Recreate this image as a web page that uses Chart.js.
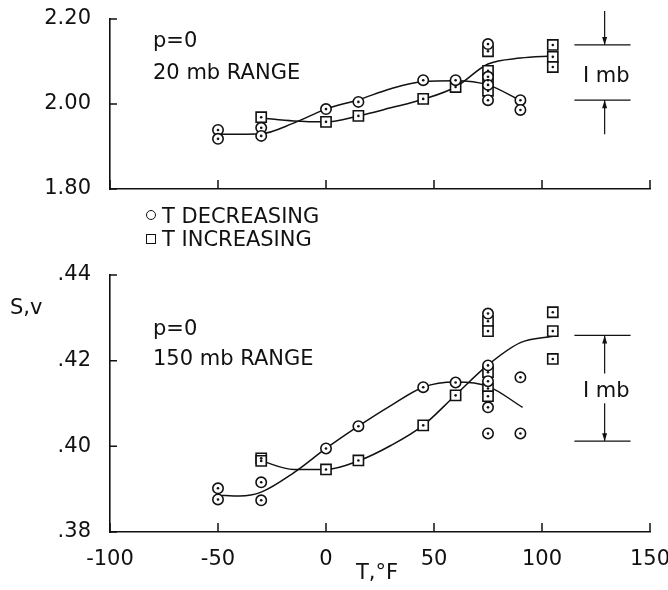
<!DOCTYPE html>
<html>
<head>
<meta charset="utf-8">
<script src="https://cdn.jsdelivr.net/npm/chart.js@4.4.0/dist/chart.umd.min.js"></script>
<style>
  body { margin: 0; background: #fff; width: 668px; height: 590px; position: relative; overflow: hidden;
         font-family: "DejaVu Sans", sans-serif; color: #111; }
  .box { position: absolute; left: 0; width: 668px; }
  #topBox { top: 0; height: 200px; }
  #botBox { top: 250px; height: 340px; }
  .txt { position: absolute; font-size: 21px; line-height: 1; white-space: nowrap; }
  .mk { position: absolute; width: 8px; height: 8px; border: 1.6px solid #111; box-sizing: content-box; }
</style>
</head>
<body>
<div class="box" id="topBox"><canvas id="topChart"></canvas></div>
<div class="box" id="botBox"><canvas id="botChart"></canvas></div>

<div class="txt" style="left:153px;top:30px">p=0</div>
<div class="txt" style="left:153px;top:62px">20 mb RANGE</div>
<div class="txt" style="left:583px;top:65px">I mb</div>

<div class="mk" style="left:146px;top:210px;border-radius:50%"></div>
<div class="txt" style="left:162px;top:206px">T DECREASING</div>
<div class="mk" style="left:146px;top:234px"></div>
<div class="txt" style="left:162px;top:229px">T INCREASING</div>

<div class="txt" style="left:10px;top:297px">S,v</div>
<div class="txt" style="left:153px;top:318px">p=0</div>
<div class="txt" style="left:153px;top:348px">150 mb RANGE</div>
<div class="txt" style="left:583px;top:380px">I mb</div>
<div class="txt" style="left:356px;top:562px">T,°F</div>

<script>
// Axis ticks
const xTicks = [-100, -50, 0, 50, 100, 150];
const xTickLabels = ['-100', '-50', '0', '50', '100', '150'];
const topYTicks = [1.80, 2.00, 2.20];
const topYTickLabels = ['1.80', '2.00', '2.20'];
const botYTicks = [0.38, 0.40, 0.42, 0.44];
const botYTickLabels = ['.38', '.40', '.42', '.44'];

// 20 mb range, measured points
const topDecX = [-50, -50, -30, -30, 0, 15, 45, 60, 75, 75, 75, 75, 90, 90];
const topDecY = [1.939, 1.918, 1.944, 1.925, 1.988, 2.005, 2.056, 2.056, 2.141, 2.064, 2.045, 2.009, 2.009, 1.986];
const topIncX = [-30, 0, 15, 45, 60, 75, 75, 75, 75, 105, 105, 105];
const topIncY = [1.969, 1.958, 1.972, 2.012, 2.040, 2.124, 2.078, 2.056, 2.031, 2.139, 2.111, 2.087];
// 20 mb range, faired curves
const topDecCurveX = [-50, -40, -30, -15, 0, 15, 30, 45, 60, 75, 90];
const topDecCurveY = [1.929, 1.929, 1.930, 1.955, 1.988, 2.010, 2.036, 2.053, 2.055, 2.045, 2.008];
const topIncCurveX = [-30, -15, 0, 15, 30, 45, 60, 75, 90, 105];
const topIncCurveY = [1.967, 1.960, 1.958, 1.972, 1.991, 2.011, 2.040, 2.094, 2.108, 2.113];

// 150 mb range, measured points
const botDecX = [-50, -50, -30, -30, 0, 15, 45, 60, 75, 75, 75, 75, 75, 90, 90];
const botDecY = [0.3902, 0.3876, 0.3916, 0.3874, 0.3995, 0.4047, 0.4138, 0.4149, 0.4310, 0.4189, 0.4152, 0.4091, 0.4030, 0.4161, 0.4030];
const botIncX = [-30, -30, 0, 15, 45, 60, 75, 75, 75, 75, 75, 105, 105, 105];
const botIncY = [0.3972, 0.3966, 0.3946, 0.3967, 0.4049, 0.4119, 0.4292, 0.4269, 0.4173, 0.4135, 0.4117, 0.4313, 0.4269, 0.4204];
// 150 mb range, faired curves
const botDecCurveX = [-50, -40, -30, -15, 0, 15, 30, 45, 60, 75, 91];
const botDecCurveY = [0.3886, 0.3884, 0.3893, 0.3938, 0.3995, 0.4047, 0.4095, 0.4138, 0.4150, 0.4140, 0.4091];
const botIncCurveX = [-30, -15, 0, 15, 30, 45, 60, 75, 90, 105];
const botIncCurveY = [0.3966, 0.3946, 0.3946, 0.3966, 0.4002, 0.4049, 0.4120, 0.4190, 0.4242, 0.4257];

// "1 mb" scale brackets
const topBracket = [2.009, 2.139];
const botBracket = [0.4012, 0.4259];
const bracketX = [115, 141];
const bracketArrowX = 129;

const ink = '#111';
const font = { family: 'DejaVu Sans', size: 21 };

function pts(xs, ys) {
  return xs.map((x, i) => ({ x, y: ys[i] }));
}

// inward tick marks, centre dots on the markers and the 1 mb bracket
const extras = {
  id: 'extras',
  afterDatasetsDraw(chart) {
    const ctx = chart.ctx;
    ctx.save();
    ctx.fillStyle = ink;
    chart.data.datasets.forEach((ds, i) => {
      if (ds.showLine) return;
      chart.getDatasetMeta(i).data.forEach(el => {
        ctx.beginPath();
        ctx.arc(el.x, el.y, 1.3, 0, Math.PI * 2);
        ctx.fill();
      });
    });
    ctx.restore();
  },
  afterDraw(chart, args, opts) {
    const { ctx, chartArea: a, scales: { x, y } } = chart;
    ctx.save();
    ctx.strokeStyle = ink;
    ctx.fillStyle = ink;
    ctx.lineWidth = 1.5;
    ctx.beginPath();
    x.ticks.forEach(t => {
      const px = x.getPixelForValue(t.value);
      ctx.moveTo(px, a.bottom);
      ctx.lineTo(px, a.bottom - 9);
    });
    y.ticks.forEach(t => {
      const py = y.getPixelForValue(t.value);
      ctx.moveTo(a.left, py);
      ctx.lineTo(a.left + 7, py);
    });
    ctx.stroke();

    // bracket
    const x0 = x.getPixelForValue(bracketX[0]);
    const x1 = x.getPixelForValue(bracketX[1]);
    const xa = x.getPixelForValue(bracketArrowX);
    const yLo = y.getPixelForValue(opts.values[0]);
    const yHi = y.getPixelForValue(opts.values[1]);
    ctx.lineWidth = 1.2;
    ctx.beginPath();
    ctx.moveTo(x0, yHi); ctx.lineTo(x1, yHi);
    ctx.moveTo(x0, yLo); ctx.lineTo(x1, yLo);
    const s = opts.stub;
    if (opts.inside) {
      ctx.moveTo(xa, yHi); ctx.lineTo(xa, yHi + s);
      ctx.moveTo(xa, yLo); ctx.lineTo(xa, yLo - s);
    } else {
      ctx.moveTo(xa, yHi); ctx.lineTo(xa, yHi - s);
      ctx.moveTo(xa, yLo); ctx.lineTo(xa, yLo + s);
    }
    ctx.stroke();
    const head = (yTip, dir) => {
      ctx.beginPath();
      ctx.moveTo(xa, yTip);
      ctx.lineTo(xa - 2.5, yTip + dir * 8);
      ctx.lineTo(xa + 2.5, yTip + dir * 8);
      ctx.closePath();
      ctx.fill();
    };
    if (opts.inside) { head(yHi, 1); head(yLo, -1); }
    else { head(yHi, -1); head(yLo, 1); }
    ctx.restore();
  }
};

function makeChart(id, cfg) {
  const markers = (data, style, r) => ({
    data, showLine: false, order: 1,
    pointStyle: style, pointRadius: r, pointHoverRadius: r,
    pointBackgroundColor: '#fff', pointBorderColor: ink, pointBorderWidth: 1.6
  });
  const curve = data => ({
    data, showLine: true, order: 2, pointRadius: 0,
    borderColor: ink, borderWidth: 1.5, cubicInterpolationMode: 'monotone'
  });
  return new Chart(document.getElementById(id), {
    type: 'scatter',
    data: {
      datasets: [
        curve(cfg.decCurve),
        curve(cfg.incCurve),
        markers(cfg.dec, 'circle', 5.2),
        markers(cfg.inc, 'rect', 7.2)
      ]
    },
    options: {
      responsive: true,
      maintainAspectRatio: false,
      animation: false,
      layout: { padding: { top: cfg.padTop, right: 18, left: 0, bottom: 0 } },
      plugins: {
        legend: { display: false },
        tooltip: { enabled: false },
        extras: cfg.bracket
      },
      scales: {
        x: {
          type: 'linear', min: -100, max: 150,
          afterBuildTicks: s => { s.ticks = xTicks.map(v => ({ value: v })); },
          afterFit: s => { s.height = cfg.xHeight; s.paddingLeft = 0; s.paddingRight = 0; },
          ticks: {
            display: cfg.xLabels, font, color: ink, padding: 7,
            maxRotation: 0, autoSkip: false,
            callback: (v, i) => xTickLabels[i]
          },
          grid: { display: false },
          border: { display: true, color: ink, width: 1.6 }
        },
        y: {
          min: cfg.yTicks[0], max: cfg.yTicks[cfg.yTicks.length - 1],
          afterBuildTicks: s => { s.ticks = cfg.yTicks.map(v => ({ value: v })); },
          afterFit: s => { s.width = 110; s.paddingTop = 0; s.paddingBottom = 0; },
          ticks: {
            font, color: ink, padding: 11,
            callback: (v, i) => cfg.yLabels[i]
          },
          grid: { display: false },
          border: { display: true, color: ink, width: 1.6 }
        }
      }
    },
    plugins: [extras]
  });
}

makeChart('topChart', {
  dec: pts(topDecX, topDecY), inc: pts(topIncX, topIncY),
  decCurve: pts(topDecCurveX, topDecCurveY), incCurve: pts(topIncCurveX, topIncCurveY),
  yTicks: topYTicks, yLabels: topYTickLabels,
  padTop: 19, xHeight: 11, xLabels: false,
  bracket: { values: topBracket, inside: false, stub: 34 }
});

makeChart('botChart', {
  dec: pts(botDecX, botDecY), inc: pts(botIncX, botIncY),
  decCurve: pts(botDecCurveX, botDecCurveY), incCurve: pts(botIncCurveX, botIncCurveY),
  yTicks: botYTicks, yLabels: botYTickLabels,
  padTop: 25, xHeight: 58, xLabels: true,
  bracket: { values: botBracket, inside: true, stub: 38 }
});
</script>
</body>
</html>
